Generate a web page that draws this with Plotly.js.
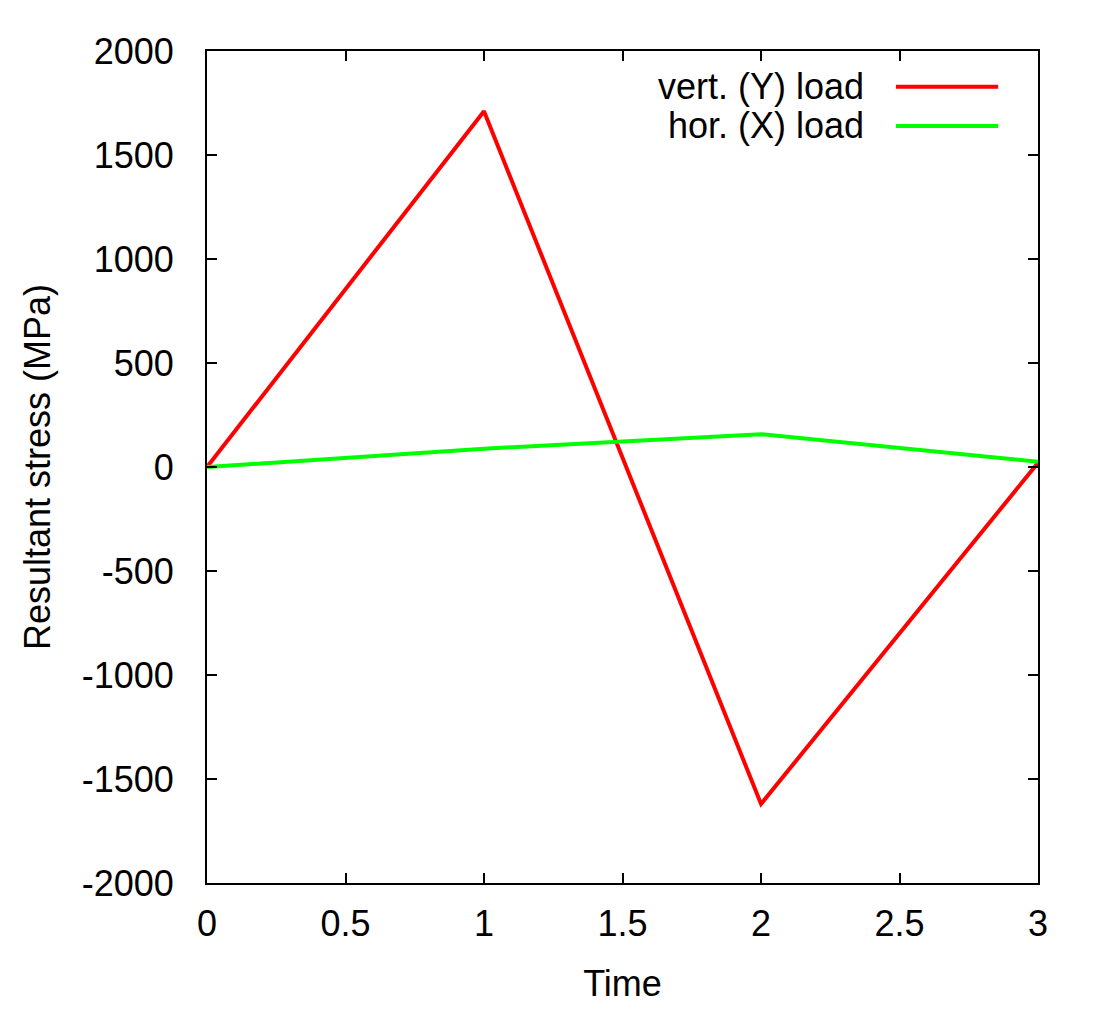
<!DOCTYPE html>
<html>
<head>
<meta charset="utf-8">
<script src="https://cdn.plot.ly/plotly-3.0.1.min.js"></script>
<style>html,body{margin:0;padding:0;background:#fff;}#chart{width:1104px;height:1019px;}</style>
</head>
<body>
<div id="chart"></div>
<script>
const time = [0, 1, 2, 3];
const vertLoad = [0, 1710, -1620, 20];
const horLoad = [0, 88, 158, 25];
const seriesNames = ["vert. (Y) load", "hor. (X) load"];
const seriesColors = ["#ff0000", "#00ff00"];
const xTicks = [0, 0.5, 1, 1.5, 2, 2.5, 3];
const xTickText = ["0", "0.5", "1", "1.5", "2", "2.5", "3"];
const yTicks = [-2000, -1500, -1000, -500, 0, 500, 1000, 1500, 2000];
const yTickText = ["-2000", "-1500", "-1000", "-500", "0", "500", "1000", "1500", "2000"];

const font = {family: "Liberation Sans, Arial, sans-serif", size: 36, color: "#000"};

const traces = [
  {x: time, y: vertLoad, name: seriesNames[0], mode: "lines", line: {color: seriesColors[0], width: 4}},
  {x: time, y: horLoad, name: seriesNames[1], mode: "lines", line: {color: seriesColors[1], width: 4}}
];

const legendY = [0.957, 0.910];
const annotations = seriesNames.map((n, i) => ({
  xref: "paper", yref: "paper", x: 0.793, y: legendY[i], xanchor: "right", yanchor: "middle",
  text: n, showarrow: false, font: font
}));
const shapes = seriesNames.map((n, i) => ({
  type: "line", xref: "paper", yref: "paper", x0: 0.829, x1: 0.952, y0: legendY[i], y1: legendY[i],
  line: {color: seriesColors[i], width: 4}
}));

const layout = {
  width: 1104, height: 1019,
  margin: {l: 207, r: 66, t: 51, b: 136},
  paper_bgcolor: "#fff", plot_bgcolor: "#fff",
  showlegend: false,
  font: font,
  xaxis: {
    range: [0, 3], tickvals: xTicks, ticktext: xTickText,
    ticks: "inside", ticklen: 10, tickwidth: 2, tickcolor: "#000",
    showline: true, linecolor: "#000", linewidth: 2, mirror: "ticks",
    showgrid: false, zeroline: false, ticklabelstandoff: 8,
    title: {text: "Time", font: font, standoff: 28}
  },
  yaxis: {
    range: [-2000, 2000], tickvals: yTicks, ticktext: yTickText,
    ticks: "inside", ticklen: 10, tickwidth: 2, tickcolor: "#000",
    showline: true, linecolor: "#000", linewidth: 2, mirror: "ticks",
    showgrid: false, zeroline: false, ticklabelstandoff: 24,
    title: {text: "Resultant stress (MPa)", font: font, standoff: 20}
  },
  annotations: annotations,
  shapes: shapes
};

Plotly.newPlot("chart", traces, layout, {displayModeBar: false, staticPlot: true});
</script>
</body>
</html>
